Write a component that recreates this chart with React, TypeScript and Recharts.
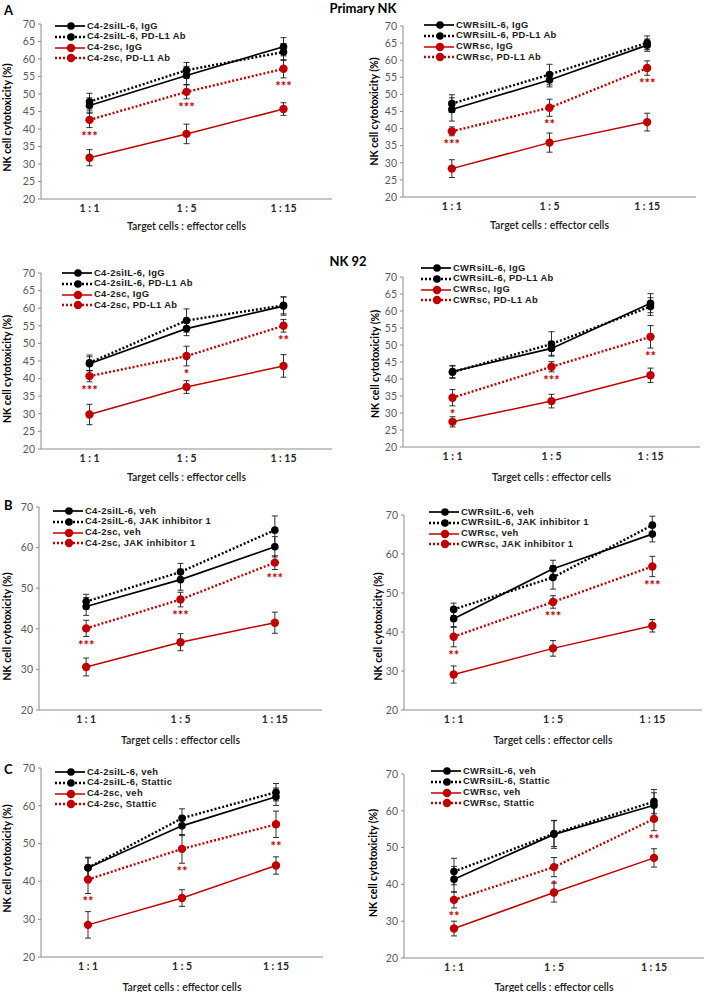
import React from "react";
import { ComposedChart, Line, XAxis, YAxis, ErrorBar, Legend } from "recharts";

const ratios = ["1 : 1", "1 : 5", "1 : 15"];
const ticksBy5 = [20, 25, 30, 35, 40, 45, 50, 55, 60, 65, 70];
const ticksBy10 = [20, 30, 40, 50, 60, 70];

// legend labels, order: siIL-6 control, siIL-6 treated, sc control, sc treated
const c42PdL1Labels = ["C4-2siIL-6, IgG", "C4-2siIL-6, PD-L1 Ab", "C4-2sc, IgG", "C4-2sc, PD-L1 Ab"];
const cwrPdL1Labels = ["CWRsiIL-6, IgG", "CWRsiIL-6, PD-L1 Ab", "CWRsc, IgG", "CWRsc, PD-L1 Ab"];
const c42JakLabels = ["C4-2siIL-6, veh", "C4-2siIL-6, JAK inhibitor 1", "C4-2sc, veh", "C4-2sc, JAK inhibitor 1"];
const cwrJakLabels = ["CWRsiIL-6, veh", "CWRsiIL-6, JAK inhibitor 1", "CWRsc, veh", "CWRsc, JAK inhibitor 1"];
const c42StatticLabels = ["C4-2siIL-6, veh", "C4-2siIL-6, Stattic", "C4-2sc, veh", "C4-2sc, Stattic"];
const cwrStatticLabels = ["CWRsiIL-6, veh", "CWRsiIL-6, Stattic", "CWRsc, veh", "CWRsc, Stattic"];

// A - primary NK, C4-2
const pnkC42Means = [
  [46.7, 55.3, 63.5],
  [47.8, 56.8, 62.0],
  [31.8, 38.6, 45.7],
  [42.6, 50.6, 57.2],
];
const pnkC42Errs = [
  [2.2, 2.6, 2.6],
  [2.4, 2.2, 2.4],
  [2.3, 2.8, 1.8],
  [2.2, 2.0, 2.6],
];
const pnkC42Stars = ["***", "***", "***"];

// A - primary NK, CWR
const pnkCwrMeans = [
  [45.6, 54.2, 64.4],
  [47.3, 55.8, 65.1],
  [28.3, 35.9, 41.9],
  [39.2, 46.1, 57.7],
];
const pnkCwrErrs = [
  [3.4, 2.0, 1.8],
  [2.6, 3.0, 2.0],
  [2.6, 2.8, 2.6],
  [1.3, 2.5, 2.1],
];
const pnkCwrStars = ["***", "**", "***"];

// NK 92, C4-2
const nk92C42Means = [
  [44.2, 54.2, 60.6],
  [44.5, 56.5, 60.8],
  [29.8, 37.6, 43.6],
  [40.7, 46.4, 55.0],
];
const nk92C42Errs = [
  [2.0, 2.0, 2.6],
  [2.2, 3.3, 2.4],
  [2.9, 1.8, 3.2],
  [1.6, 2.8, 1.8],
];
const nk92C42Stars = ["***", "*", "**"];

// NK 92, CWR
const nk92CwrMeans = [
  [42.2, 49.0, 62.3],
  [42.0, 50.3, 61.3],
  [27.4, 33.5, 41.1],
  [34.5, 43.6, 52.4],
];
const nk92CwrErrs = [
  [1.8, 2.0, 2.8],
  [1.8, 3.6, 2.6],
  [1.5, 2.0, 2.1],
  [2.4, 1.5, 3.3],
];
const nk92CwrStars = ["*", "***", "**"];

// B - JAK inhibitor 1
const jakC42Means = [
  [45.5, 52.1, 60.2],
  [46.7, 54.0, 64.3],
  [30.6, 36.7, 41.5],
  [40.1, 47.2, 56.3],
];
const jakC42Errs = [
  [2.2, 2.6, 2.5],
  [1.8, 2.1, 3.5],
  [2.2, 2.1, 2.6],
  [2.0, 1.8, 1.7],
];
const jakC42Stars = ["***", "***", "***"];

const jakCwrMeans = [
  [43.4, 56.2, 65.1],
  [45.8, 54.0, 67.4],
  [29.1, 35.8, 41.6],
  [38.8, 47.7, 56.8],
];
const jakCwrErrs = [
  [2.2, 2.2, 2.0],
  [1.6, 3.0, 2.3],
  [2.2, 2.0, 1.6],
  [2.6, 1.6, 2.6],
];
const jakCwrStars = ["**", "***", "***"];

// C - Stattic
const statC42Means = [
  [43.6, 54.7, 62.4],
  [43.6, 56.7, 63.6],
  [28.5, 35.6, 44.2],
  [40.5, 48.6, 55.1],
];
const statC42Errs = [
  [2.8, 2.6, 2.3],
  [2.6, 2.5, 2.3],
  [3.5, 2.2, 2.3],
  [3.7, 3.8, 3.5],
];
const statC42Stars = ["**", "**", "**"];

const statCwrMeans = [
  [41.4, 53.6, 61.5],
  [43.5, 53.8, 62.5],
  [28.0, 37.8, 47.2],
  [35.8, 44.7, 57.8],
];
const statCwrErrs = [
  [3.5, 3.8, 3.4],
  [3.6, 3.5, 3.3],
  [2.0, 2.6, 2.5],
  [2.2, 2.6, 3.2],
];
const statCwrStars = ["**", "*", "**"];

const RED = "#c00000";
const AXIS = "#8c8c8c";
const ROW_H = 10.8;

const seriesLook = [
  { color: "#000", dash: undefined, width: 1.7, r: 3.8 },
  { color: "#000", dash: "2 2", width: 2.4, r: 3.8 },
  { color: RED, dash: undefined, width: 1.5, r: 4.2 },
  { color: RED, dash: "2 2", width: 2.4, r: 4.2 },
];

const LegendBox = ({ labels }: { labels: string[] }) => (
  <div>
    {labels.map((label, i) => {
      const s = seriesLook[i];
      return (
        <div key={label} style={{ display: "flex", alignItems: "center", height: ROW_H }}>
          <svg width={30} height={10}>
            <line x1={0} y1={5} x2={30} y2={5} stroke={s.color} strokeWidth={s.width} strokeDasharray={s.dash} />
            <circle cx={16} cy={5} r={s.r} fill={s.color} />
          </svg>
          <span
            style={{
              marginLeft: 2,
              fontFamily: "'Liberation Sans', Arial, sans-serif",
              fontSize: 9.4,
              letterSpacing: 0.35,
              fontWeight: 700,
              color: "#1a1a1a",
              whiteSpace: "nowrap",
              lineHeight: `${ROW_H}px`,
            }}
          >
            {label}
          </span>
        </div>
      );
    })}
  </div>
);

type PanelProps = {
  left: number;
  plot: number[]; // x0, y0 (value 70), x1, y1 (value 20)
  means: number[][];
  errs: number[][];
  stars: string[];
  labels: string[];
  ticks: number[];
  legendAt: number[];
  yLabelX: number;
  yLabelDy: number;
  xTitleY: number;
};

const Panel = ({ left, plot, means, errs, stars, labels, ticks, legendAt, yLabelX, yLabelDy, xTitleY }: PanelProps) => {
  const [x0, y0, x1, y1] = plot;
  const padTop = 10;
  const top = y0 - padTop;
  const width = left === 0 ? 354 : 355;
  const xAxisH = 40;
  const height = padTop + (y1 - y0) + xAxisH;

  const rows = ratios.map((ratio, i) => {
    const row: Record<string, number | string> = { ratio, starAt: means[3][i] - errs[3][i] };
    means.forEach((m, s) => {
      row[`m${s}`] = m[i];
      row[`e${s}`] = errs[s][i];
    });
    return row;
  });

  return (
    <div style={{ position: "absolute", left, top }}>
      <ComposedChart
        width={width}
        height={height}
        data={rows}
        margin={{ top: padTop, right: left + width - x1, left: 0, bottom: 0 }}
      >
        <XAxis
          dataKey="ratio"
          scale="band"
          height={xAxisH}
          axisLine={{ stroke: AXIS }}
          tickLine={false}
          tickSize={4}
          tickMargin={2}
          tick={{ fontSize: 10.5, fontWeight: 700, fill: "#262626" }}
          label={{
            value: "Target cells : effector cells",
            position: "insideBottom",
            offset: y1 + xAxisH - (xTitleY + 3.5),
            style: { fontSize: 10.5, fontWeight: 600, fill: "#1a1a1a" },
          }}
        />
        <YAxis
          width={x0 - left}
          domain={[20, 70]}
          ticks={ticks}
          interval={0}
          axisLine={{ stroke: AXIS }}
          tickLine={{ stroke: AXIS }}
          tickSize={3}
          tickMargin={3}
          tick={{ fontSize: 10.5, fill: "#595959" }}
          label={{
            value: "NK cell cytotoxicity (%)",
            angle: -90,
            position: "insideLeft",
            offset: yLabelX - left,
            dy: yLabelDy,
            style: { textAnchor: "middle", fontSize: 10.5, fontWeight: 700, fill: "#000" },
          }}
        />
        <Legend
          layout="vertical"
          align="center"
          verticalAlign="middle"
          wrapperStyle={{ left: legendAt[0] - left, top: legendAt[1] - ROW_H / 2 - top, width: 260 }}
          content={() => <LegendBox labels={labels} />}
        />
        {seriesLook.map((s, i) => (
          <Line
            key={i}
            dataKey={`m${i}`}
            name={labels[i]}
            stroke={s.color}
            strokeWidth={s.width}
            strokeDasharray={s.dash}
            dot={{ r: s.r, fill: s.color, stroke: "none" }}
            activeDot={false}
            isAnimationActive={false}
          >
            <ErrorBar dataKey={`e${i}`} width={3} stroke="#1a1a1a" strokeWidth={0.9} direction="y" />
          </Line>
        ))}
        <Line
          dataKey="starAt"
          stroke="none"
          legendType="none"
          activeDot={false}
          isAnimationActive={false}
          dot={(p: any) => (
            <text
              key={`star-${p.index}`}
              x={p.cx}
              y={p.cy + 13}
              textAnchor="middle"
              fontSize={13}
              fontWeight={700}
              fill={RED}
            >
              {stars[p.index]}
            </text>
          )}
        />
      </ComposedChart>
    </div>
  );
};

const heading: React.CSSProperties = { position: "absolute", fontSize: 13, fontWeight: 700, color: "#000", lineHeight: "14px" };

export default function App() {
  return (
    <div
      style={{
        position: "absolute",
        left: 0,
        top: 0,
        width: 709,
        height: 992,
        background: "#fff",
        fontFamily: "Lato, 'Open Sans', sans-serif",
        overflow: "hidden",
      }}
    >
      <div style={{ ...heading, left: 4, top: 3 }}>A</div>
      <div style={{ ...heading, left: 303, top: 1, width: 120, textAlign: "center" }}>Primary NK</div>
      <div style={{ ...heading, left: 298, top: 254, width: 100, textAlign: "center" }}>NK 92</div>
      <div style={{ ...heading, left: 4, top: 498 }}>B</div>
      <div style={{ ...heading, left: 4, top: 762 }}>C</div>

      <Panel left={0} plot={[41, 24, 332, 199]} means={pnkC42Means} errs={pnkC42Errs} stars={pnkC42Stars}
        labels={c42PdL1Labels} ticks={ticksBy5} legendAt={[55, 26]} yLabelX={7} yLabelDy={6} xTitleY={226} />
      <Panel left={354} plot={[403, 26, 696, 197]} means={pnkCwrMeans} errs={pnkCwrErrs} stars={pnkCwrStars}
        labels={cwrPdL1Labels} ticks={ticksBy5} legendAt={[424, 25]} yLabelX={374} yLabelDy={0} xTitleY={225} />

      <Panel left={0} plot={[41, 273, 332, 449]} means={nk92C42Means} errs={nk92C42Errs} stars={nk92C42Stars}
        labels={c42PdL1Labels} ticks={ticksBy5} legendAt={[62, 273]} yLabelX={7} yLabelDy={8} xTitleY={477} />
      <Panel left={354} plot={[403, 277, 700, 447]} means={nk92CwrMeans} errs={nk92CwrErrs} stars={nk92CwrStars}
        labels={cwrPdL1Labels} ticks={ticksBy5} legendAt={[421, 268]} yLabelX={375} yLabelDy={2} xTitleY={477} />

      <Panel left={0} plot={[39, 507, 322, 710]} means={jakC42Means} errs={jakC42Errs} stars={jakC42Stars}
        labels={c42JakLabels} ticks={ticksBy10} legendAt={[53, 511]} yLabelX={7} yLabelDy={18} xTitleY={740} />
      <Panel left={354} plot={[404, 515, 702, 710]} means={jakCwrMeans} errs={jakCwrErrs} stars={jakCwrStars}
        labels={cwrJakLabels} ticks={ticksBy10} legendAt={[429, 512]} yLabelX={378} yLabelDy={14} xTitleY={740} />

      <Panel left={0} plot={[41, 768, 323, 957]} means={statC42Means} errs={statC42Errs} stars={statC42Stars}
        labels={c42StatticLabels} ticks={ticksBy10} legendAt={[55, 772]} yLabelX={7} yLabelDy={-4} xTitleY={987} />
      <Panel left={354} plot={[404, 774, 704, 958]} means={statCwrMeans} errs={statCwrErrs} stars={statCwrStars}
        labels={cwrStatticLabels} ticks={ticksBy10} legendAt={[431, 771]} yLabelX={373} yLabelDy={-3} xTitleY={987} />
    </div>
  );
}
